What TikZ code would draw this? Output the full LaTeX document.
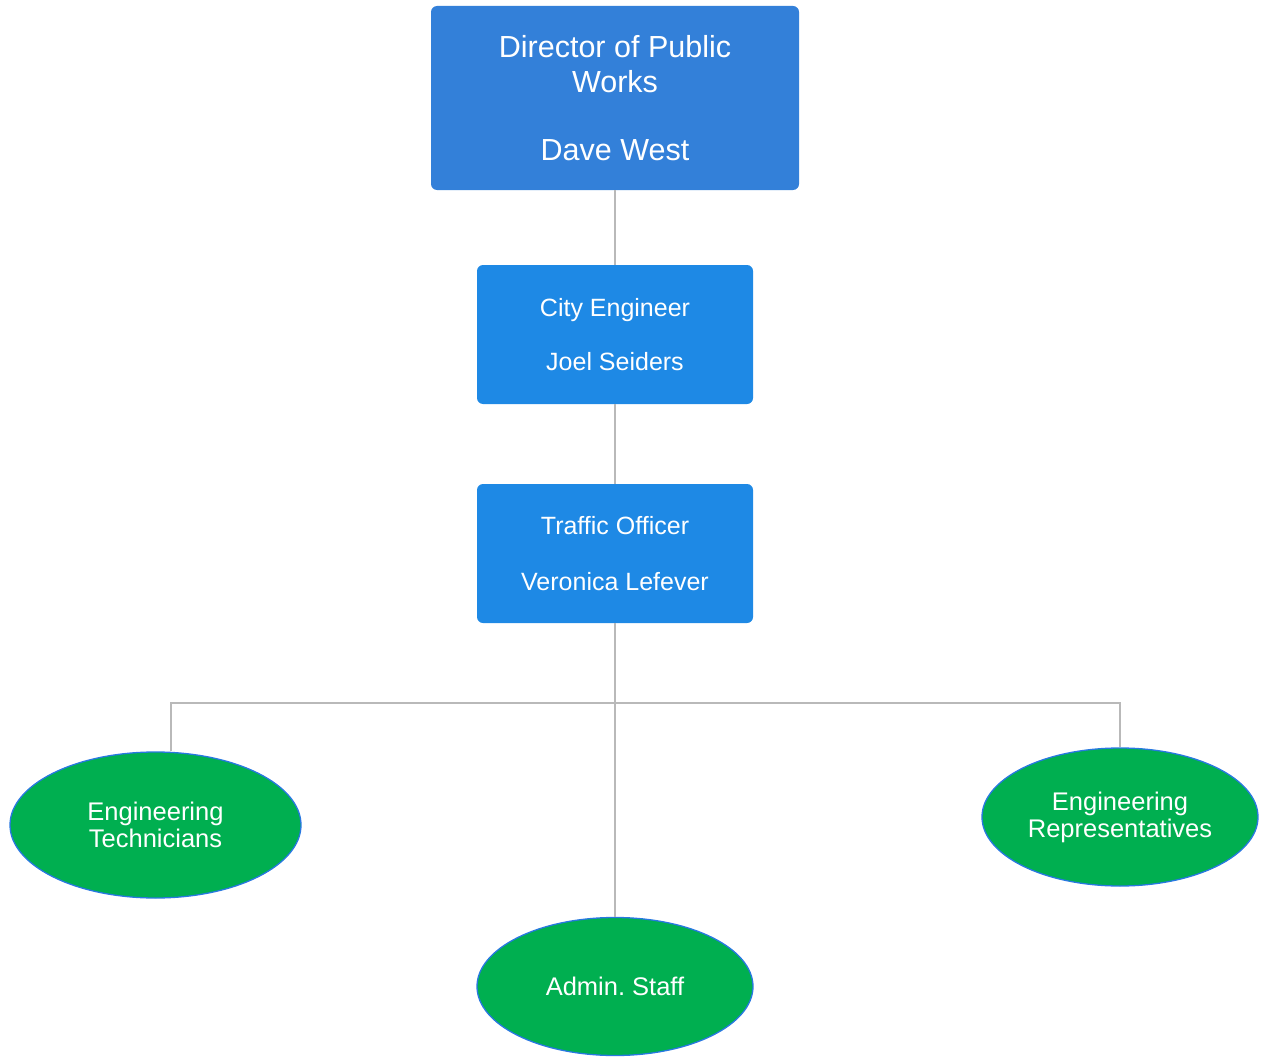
\documentclass[tikz,border=0pt]{standalone}
\usepackage{fontspec}
\setmainfont{Liberation Sans}
\usetikzlibrary{shapes.geometric}
\definecolor{dirblue}{RGB}{51,128,217}
\definecolor{boxblue}{RGB}{30,137,229}
\definecolor{staffgreen}{RGB}{0,175,80}
\definecolor{rimblue}{RGB}{40,120,225}
\definecolor{linkgray}{RGB}{185,185,185}
\begin{document}
\begin{tikzpicture}[x=1pt,y=-1pt,
        box/.style={rectangle, rounded corners=6pt, fill=boxblue, text=white, align=center, inner sep=0pt, minimum width=276pt, minimum height=139pt, font=\fontsize{25}{27.5}\selectfont},
        staff/.style={ellipse, draw=rimblue, line width=1.3pt, fill=staffgreen, text=white, align=center, inner sep=0pt, minimum width=276pt, minimum height=138pt, font=\fontsize{25.5}{27}\selectfont},
        link/.style={draw=linkgray, line width=1.5pt}]
        \useasboundingbox (0,0) rectangle (1262,1057);
        \node[box, fill=dirblue, minimum width=368pt, minimum height=184pt, font=\fontsize{30.5}{35}\selectfont] (dir) at (615,98) {Director of Public\\Works\\[33pt]Dave West};
        \node[box] (city) at (615,334.5) {City Engineer\\[27pt]Joel Seiders};
        \node[box] (traffic) at (615,553.5) {Traffic Officer\\[28pt]Veronica Lefever};
        \node[staff, minimum width=291pt, minimum height=146pt] (tech) at (155.5,825) {Engineering\\Technicians};
        \node[staff] (admin) at (615,986.5) {Admin.\ Staff};
        \node[staff] (reps) at (1120,817) {Engineering\\Representatives};
        \coordinate (bus) at (615,703);
        \coordinate (techtop) at (171,751);
        \draw[link] (dir.south) -- (city.north);
        \draw[link] (city.south) -- (traffic.north);
        \draw[link] (traffic.south) -- (admin.north);
        \draw[link] (techtop) |- (bus) -| (reps.north);
    \end{tikzpicture}
\end{document}
